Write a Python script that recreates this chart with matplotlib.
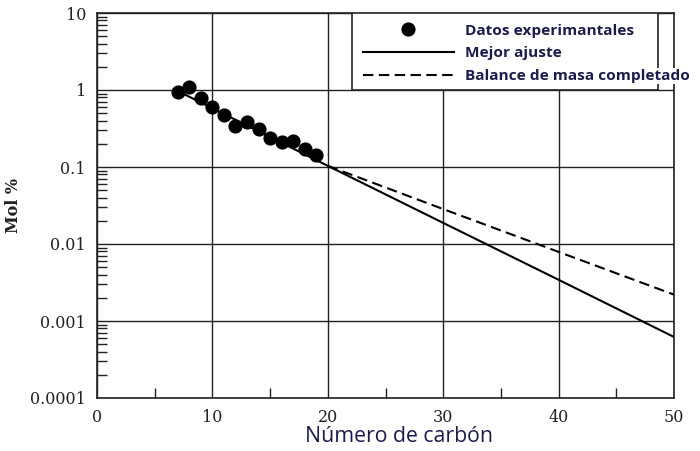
import matplotlib
matplotlib.use("Agg")
import matplotlib.pyplot as plt
import matplotlib.patches as patches
from matplotlib.ticker import FixedLocator, LogLocator, NullFormatter

# ------------------------------------------
# Data
# ------------------------------------------
carbon_exp = [7, 8, 9, 10, 11, 12, 13, 14, 15, 16, 17, 18, 19]
mol_exp = [0.94, 1.09, 0.79, 0.60, 0.47, 0.34, 0.38, 0.31, 0.24, 0.21, 0.22, 0.17, 0.144]

carbon_fit = [7, 20, 30, 40, 50]
mol_fit = [0.97, 0.1035, 0.0188, 0.00343, 0.00062]

carbon_bal = [20, 30, 40, 50]
mol_bal = [0.1035, 0.0284, 0.0079, 0.0022]

y_ticks = [1e-4, 1e-3, 1e-2, 1e-1, 1, 10]
y_tick_labels = ["0.0001", "0.001", "0.01", "0.1", "1", "10"]
x_ticks = [0, 10, 20, 30, 40, 50]

navy = "#1c1c4c"
serif = "DejaVu Serif"

fig = plt.figure(figsize=(7, 4.51), dpi=100)
ax = fig.add_axes([97 / 700, 53 / 451, 577 / 700, 385 / 451])

# ------------------------------------------
# Series
# ------------------------------------------
ax.plot(carbon_exp, mol_exp, "o", color="black", ms=9.2, zorder=4,
        label="Datos experimantales")
ax.plot(carbon_fit, mol_fit, "-", color="black", lw=1.5, zorder=3,
        label="Mejor ajuste")
ax.plot(carbon_bal, mol_bal, "--", color="black", lw=1.5, dashes=(5, 2.6), zorder=3,
        label="Balance de masa completado")

# ------------------------------------------
# Axes, ticks, grid
# ------------------------------------------
ax.set_yscale("log")
ax.set_ylim(1e-4, 10)
ax.set_xlim(0, 50)

ax.yaxis.set_major_locator(FixedLocator(y_ticks))
ax.set_yticklabels(y_tick_labels)
ax.yaxis.set_minor_locator(LogLocator(base=10, subs=range(2, 10)))
ax.yaxis.set_minor_formatter(NullFormatter())
ax.set_xticks(x_ticks)
ax.set_xticks([5, 15, 25, 35, 45], minor=True)

ax.tick_params(which="both", direction="in", top=False, right=False)
ax.tick_params(which="major", length=0, pad=8, labelsize=11.5, colors="#222222")
ax.tick_params(which="minor", length=7, width=1, color="#222222")
for lab in ax.get_xticklabels() + ax.get_yticklabels():
    lab.set_fontfamily(serif)

ax.set_axisbelow(True)
ax.grid(True, which="major", color="#222222", lw=1)
for sp in ax.spines.values():
    sp.set_color("#222222")
    sp.set_linewidth(1.2)

ax.set_ylabel("Mol %", fontfamily=serif, fontweight="bold", fontsize=11.5, color="#222222")
ax.yaxis.set_label_coords(-0.13, 0.5)
ax.set_xlabel("Número de carbón", fontfamily="Open Sans", fontsize=15.3, color=navy)
ax.xaxis.label.set_va("center")
ax.xaxis.set_label_coords(0.523, -0.099)

# ------------------------------------------
# Legend box (from y=1 up to y=10)
# ------------------------------------------
box = patches.Rectangle((255 / 577, 0.8), 306 / 577, 0.2, transform=ax.transAxes,
                        facecolor="white", edgecolor="#222222", lw=1.2, zorder=3)
ax.add_patch(box)

leg = ax.legend(loc="upper left", bbox_to_anchor=(266 / 577, 0.972), frameon=False,
                borderpad=0, borderaxespad=0, handlelength=5.9, handletextpad=0.72,
                labelspacing=0.56, numpoints=1, markerscale=1.0,
                prop={"family": "Open Sans", "weight": "bold", "size": 11.1},
                labelcolor=navy)
leg.set_zorder(6)
leg.get_texts()[2].set_bbox(dict(facecolor="white", edgecolor="none", pad=1))

fig.savefig("out.png", dpi=100)
